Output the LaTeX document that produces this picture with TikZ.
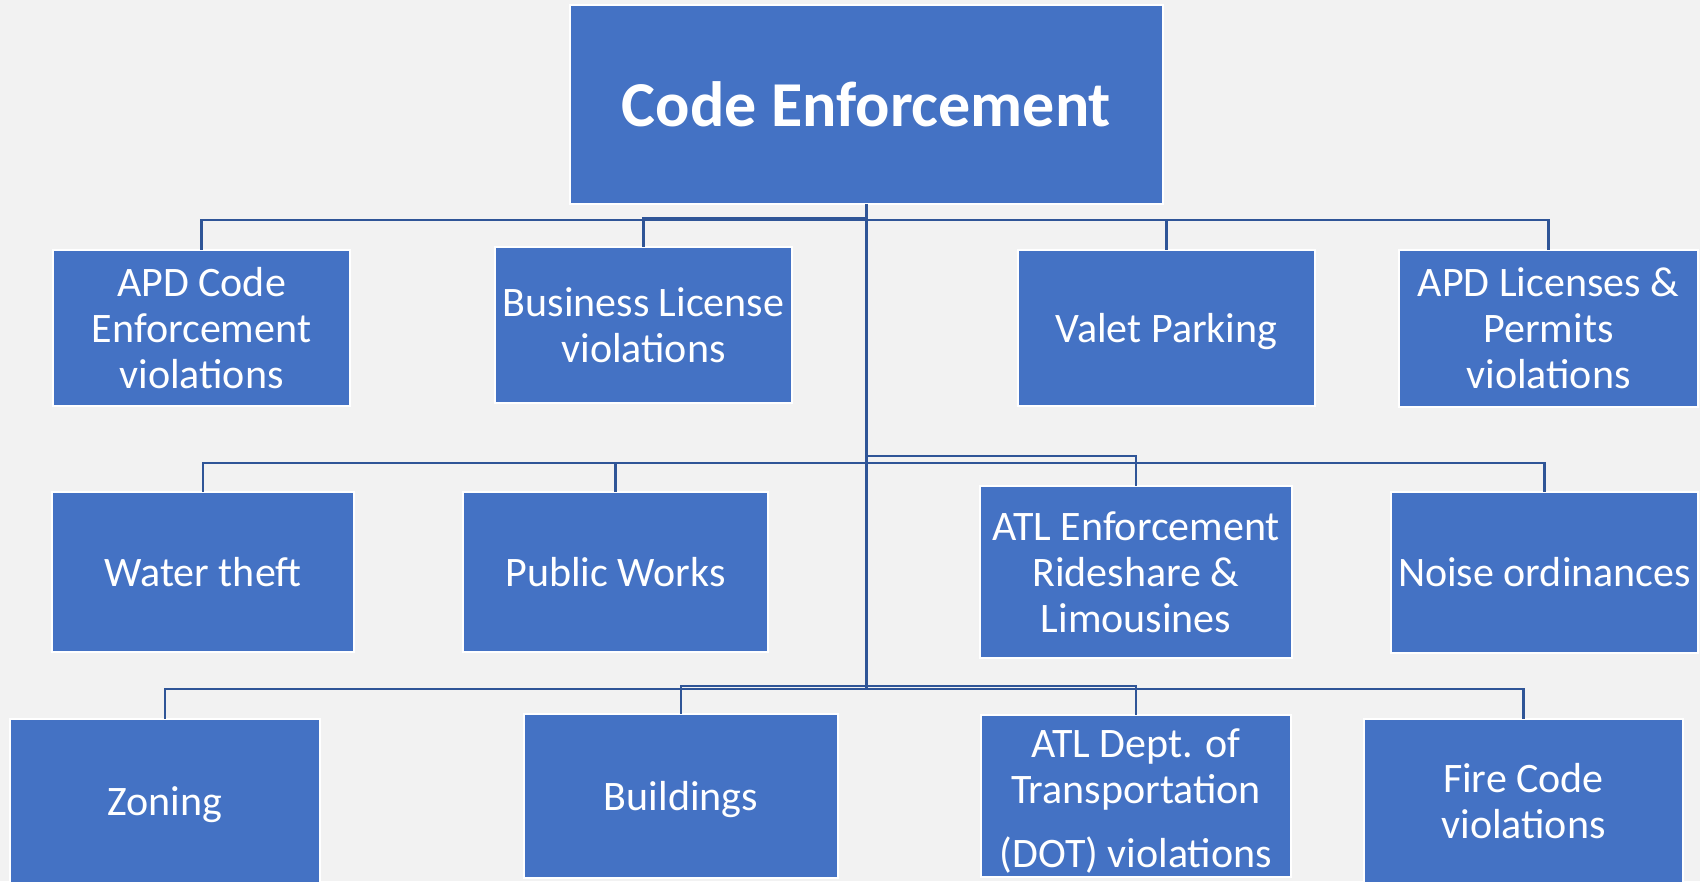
\documentclass[tikz,border=0pt]{standalone}
\usepackage{fontspec}
\setmainfont{Carlito}
\definecolor{bgc}{HTML}{F2F2F2}
\definecolor{boxblue}{HTML}{4472C4}
\definecolor{linec}{HTML}{2F5597}
\tikzset{
  box/.style={draw=white, line width=2.5pt, fill=boxblue, text=white, align=center,
    inner sep=0pt, outer sep=0pt, font=\fontsize{42}{46}\selectfont},
  oneline/.style={text height=28pt, text depth=0pt},
  conn/.style={draw=linec, line width=2.5pt}
}
\begin{document}
\begin{tikzpicture}[x=1pt,y=-1pt]
\fill[bgc] (0,0) rectangle (1700,881);
\useasboundingbox (0,0) rectangle (1700,881);
% junctions on the trunk
\coordinate (j1) at (866.5,220);
\coordinate (j1b) at (866.5,218);
\coordinate (j2) at (866.5,463);
\coordinate (j2b) at (866.5,456);
\coordinate (j3) at (866.5,689);
\coordinate (j3b) at (866.5,686);
% nodes
\node[box, minimum width=593pt, minimum height=199pt, text height=43pt, text depth=0pt, font=\fontsize{64}{70}\selectfont\bfseries] (main) at (866.5,104.5) {Code Enforcement};
\node[box, minimum width=297pt, minimum height=156pt] (apd) at (201.5,328) {APD Code\\Enforcement\\violations};
\node[box, minimum width=297pt, minimum height=156pt] (bus) at (643.5,325) {Business License\\violations};
\node[box, oneline, minimum width=297pt, minimum height=156pt] (valet) at (1166.5,328) {Valet Parking};
\node[box, minimum width=299pt, minimum height=157pt] (apdl) at (1548.5,328.5) {APD Licenses \&\\Permits\\violations};
\node[box, oneline, minimum width=302pt, minimum height=160pt] (water) at (203,572) {Water theft};
\node[box, oneline, minimum width=305pt, minimum height=160pt] (pw) at (615.5,572) {Public Works};
\node[box, minimum width=312pt, minimum height=172pt] (atle) at (1136,572) {ATL Enforcement\\Rideshare \&\\Limousines};
\node[box, oneline, minimum width=307pt, minimum height=161pt] (noise) at (1544.5,572.5) {Noise ordinances};
\node[box, oneline, minimum width=310pt, minimum height=165pt] (zoning) at (165,801.5) {Zoning};
\node[box, oneline, minimum width=314pt, minimum height=164pt] (bld) at (681,796) {Buildings};
\node[box, minimum width=310pt, minimum height=162pt] (atld) at (1136,796) {\rule{0pt}{39pt}ATL Dept. of\\Transportation\\[18pt](DOT) violations};
\node[box, minimum width=319pt, minimum height=165pt] (fire) at (1523.5,801.5) {Fire Code\\violations};
% connectors
\draw[conn] (main.south) -- (j3);
\draw[conn] (j1) -| (apd.north);
\draw[conn] (j1b) -| (bus.north);
\draw[conn] (j1) -| (valet.north);
\draw[conn] (j1) -| (apdl.north);
\draw[conn] (j2) -| (water.north);
\draw[conn] (j2) -| (pw.north);
\draw[conn] (j2b) -| (atle.north);
\draw[conn] (j2) -| (noise.north);
\draw[conn] (j3) -| (zoning.north);
\draw[conn] (j3b) -| (bld.north);
\draw[conn] (j3b) -| (atld.north);
\draw[conn] (j3) -| (fire.north);
\end{tikzpicture}
\end{document}
